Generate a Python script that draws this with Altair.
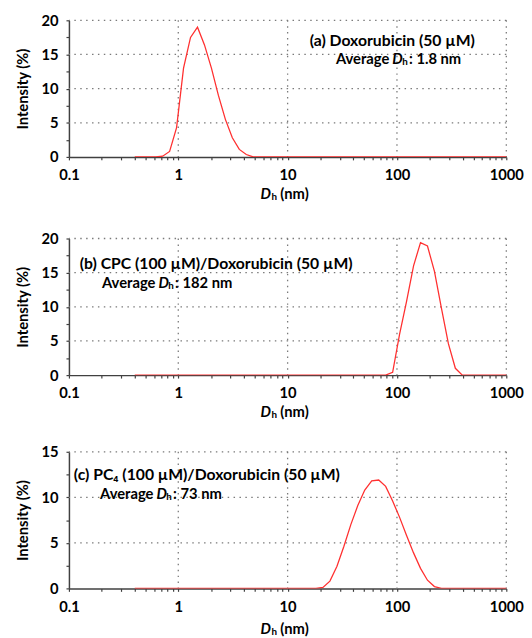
import altair as alt
import pandas as pd

# Size classes (nm) of the DLS distribution
sizes = [0.4, 0.4632, 0.5365, 0.6213, 0.7195, 0.8332, 0.9649, 1.117, 1.294, 1.499,
         1.736, 2.010, 2.328, 2.696, 3.122, 3.615, 4.187, 4.849, 5.615, 6.503,
         7.531, 8.721, 10.10, 11.70, 13.54, 15.69, 18.17, 21.04, 24.36, 28.21,
         32.67, 37.84, 43.82, 50.75, 58.77, 68.06, 78.82, 91.28, 105.7, 122.4,
         141.8, 164.2, 190.1, 220.2, 255.0, 295.3, 342.0, 396.1, 458.7, 531.2,
         615.1, 712.4, 825.0, 955.4, 1106]

# (a) Doxorubicin (50 uM)
intensity_a = [0, 0, 0, 0, 0.1, 0.8, 4.3, 13.0, 17.5, 19.0,
               16.4, 13.0, 9.0, 5.5, 2.8, 1.1, 0.35, 0, 0, 0,
               0, 0, 0, 0, 0, 0, 0, 0, 0, 0,
               0, 0, 0, 0, 0, 0, 0, 0, 0, 0,
               0, 0, 0, 0, 0, 0, 0, 0, 0, 0,
               0, 0, 0, 0, 0]
# (b) CPC (100 uM)/Doxorubicin (50 uM)
intensity_b = [0, 0, 0, 0, 0, 0, 0, 0, 0, 0,
               0, 0, 0, 0, 0, 0, 0, 0, 0, 0,
               0, 0, 0, 0, 0, 0, 0, 0, 0, 0,
               0, 0, 0, 0, 0, 0, 0, 0.4, 6.0, 10.8,
               16.0, 19.4, 18.9, 15.2, 9.8, 4.6, 1.0, 0, 0, 0,
               0, 0, 0, 0, 0]
# (c) PC4 (100 uM)/Doxorubicin (50 uM)
intensity_c = [0, 0, 0, 0, 0, 0, 0, 0, 0, 0,
               0, 0, 0, 0, 0, 0, 0, 0, 0, 0,
               0, 0, 0, 0, 0, 0, 0, 0.1, 0.8, 2.4,
               4.6, 7.0, 9.1, 10.8, 11.8, 11.9, 11.2, 9.6, 7.8, 5.8,
               3.9, 2.2, 0.9, 0.2, 0, 0, 0, 0, 0, 0,
               0, 0, 0, 0, 0]

x_ticks = [0.1, 0.2, 0.3, 0.4, 0.5, 0.6, 0.7, 0.8, 0.9,
           1, 2, 3, 4, 5, 6, 7, 8, 9,
           10, 20, 30, 40, 50, 60, 70, 80, 90,
           100, 200, 300, 400, 500, 600, 700, 800, 900, 1000]
x_grid = [1, 10, 100, 1000]
y_ticks_20 = [0, 2.5, 5, 7.5, 10, 12.5, 15, 17.5, 20]
y_ticks_15 = [0, 2.5, 5, 7.5, 10, 12.5, 15]
y_grid_20 = [5, 10, 15, 20]
y_grid_15 = [5, 10, 15]

titles = ["(a) Doxorubicin (50 µM)",
          "(b) CPC (100 µM)/Doxorubicin (50 µM)",
          "(c) PC\u2084 (100 µM)/Doxorubicin (50 µM)"]
averages = [": 1.8 nm", ": 182 nm", ": 73 nm"]

FONT = "Lato"
RED = "#ff3030"
AX = "#404040"
GRID = "#7a7a7a"
W, H = 445, 139
TS = 16   # annotation font size (first line)
TS2 = 15  # second line

MAJOR_X = "(datum.value == 0.1 || datum.value == 1 || datum.value == 10 || datum.value == 100 || datum.value == 1000)"


def txt(text, x, y, size=TS, italic=False, align="left"):
    return alt.Chart(alt.Data(values=[{}])).mark_text(
        text=text, font=FONT, fontSize=size, fontWeight="bold",
        fontStyle="italic" if italic else "normal",
        align=align, baseline="middle", color="black"
    ).encode(x=alt.value(x), y=alt.value(y))


def panel(values, ymax, yticks, ygrid, title, avg, t1, t2, xt_dy=38):
    xscale = alt.Scale(type="log", domain=[0.1, 1000], nice=False)
    yscale = alt.Scale(domain=[0, ymax], nice=False)
    xaxis = alt.Axis(values=x_ticks, title=None, grid=False,
                     labelExpr=MAJOR_X + " ? '' + datum.value : ''",
                     labelOverlap=False, labelFlush=False)
    yaxis = alt.Axis(values=yticks, title="Intensity (%)", grid=False,
                     labelExpr="datum.value % 5 === 0 ? '' + datum.value : ''",
                     labelOverlap=False, labelFlush=False)
    df = pd.DataFrame({"size": sizes, "intensity": values})
    vgrid = alt.Chart(pd.DataFrame({"g": x_grid})).mark_rule(
        color=GRID, strokeDash=[1.5, 4.5], strokeWidth=1.3
    ).encode(x=alt.X("g:Q", scale=xscale, axis=xaxis))
    hgrid = alt.Chart(pd.DataFrame({"g": ygrid})).mark_rule(
        color=GRID, strokeDash=[1.5, 4.5], strokeWidth=1.3
    ).encode(y=alt.Y("g:Q", scale=yscale, axis=yaxis))
    line = alt.Chart(df).mark_line(color=RED, strokeWidth=1.3, clip=True).encode(
        x=alt.X("size:Q", scale=xscale, axis=xaxis),
        y=alt.Y("intensity:Q", scale=yscale, axis=yaxis),
    )
    (x1, y1), (xd, y2) = t1, t2
    layers = [
        vgrid, hgrid, line,
        txt(title, x1, y1),
        txt("Average", xd - 3, y2, size=TS2, align="right"),
        txt("D", xd, y2, size=TS2, italic=True),
        txt("h", xd + 10, y2 + 3, size=10),
        txt(avg, xd + 17, y2, size=TS2),
        # x-axis title  D_h (nm)
        txt("D", 195, H + xt_dy, size=15, italic=True),
        txt("h", 206, H + xt_dy + 3, size=10),
        txt("(nm)", 215, H + xt_dy, size=15),
    ]
    return alt.layer(*layers).properties(width=W, height=H)


pa = panel(intensity_a, 20, y_ticks_20, y_grid_20, titles[0], averages[0], (245, 21), (329, 39))
pb = panel(intensity_b, 20, y_ticks_20, y_grid_20, titles[1], averages[1], (11, 26), (91, 45))
pc = panel(intensity_c, 15, y_ticks_15, y_grid_15, titles[2], averages[2], (5, 24), (89, 43), xt_dy=41)

top = alt.vconcat(pa, pb, spacing=30)
chart = alt.vconcat(top, pc, spacing=25).properties(
    padding={"left": 7, "top": 0, "right": 0, "bottom": 0}
).configure_view(strokeWidth=0).configure_axis(
    labelFont=FONT, labelFontSize=15, labelFontWeight="bold", labelColor="black",
    titleFont=FONT, titleFontSize=15, titleFontWeight="bold", titleColor="black",
    domainColor=AX, domainWidth=1.5, tickColor=AX, tickSize=3, tickWidth=1.2,
    labelPadding=8, titlePadding=11,
)

chart.save("out.html", embed_options={"renderer": "svg", "actions": False})
